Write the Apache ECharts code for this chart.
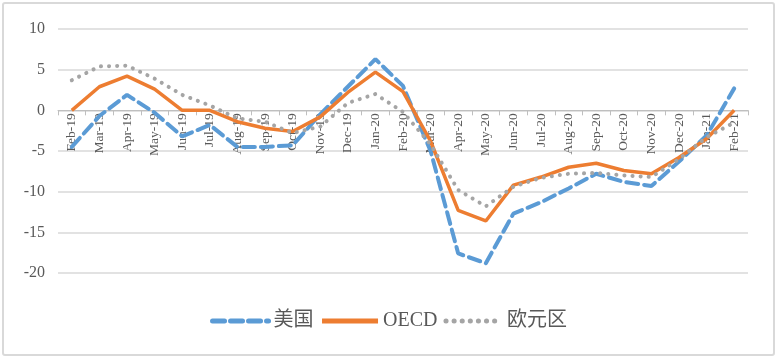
<!DOCTYPE html>
<html>
<head>
<meta charset="utf-8">
<script src="https://cdn.jsdelivr.net/npm/echarts@6/dist/echarts.min.js"></script>
<style>
html,body{margin:0;padding:0;background:#fff;}
#chart{position:absolute;left:0;top:0;width:777px;height:358px;}
#frame{position:absolute;left:2px;top:2px;width:769px;height:350px;border:2px solid #d9d9d9;border-radius:3px;pointer-events:none;}
</style>
</head>
<body>
<div id="chart"></div>
<div id="frame"></div>
<script>
const categories = ['Feb-19','Mar-19','Apr-19','May-19','Jun-19','Jul-19','Aug-19','Sep-19','Oct-19','Nov-19','Dec-19','Jan-20','Feb-20','Mar-20','Apr-20','May-20','Jun-20','Jul-20','Aug-20','Sep-20','Oct-20','Nov-20','Dec-20','Jan-21','Feb-21'];
const usValues = [-4.5,-0.7,1.9,-0.3,-3.2,-1.8,-4.5,-4.5,-4.3,-0.5,2.9,6.3,3.0,-5.0,-17.6,-18.8,-12.7,-11.3,-9.6,-7.8,-8.8,-9.3,-6.3,-3.1,2.7];
const oecdValues = [0,2.9,4.2,2.6,0,0,-1.4,-2.2,-2.6,-0.8,2.2,4.7,2.3,-3.8,-12.3,-13.6,-9.2,-8.2,-7.0,-6.5,-7.4,-7.8,-5.8,-3.5,0];
const euroValues = [3.7,5.4,5.5,3.9,1.9,0.6,-1.0,-1.4,-2.8,-2.0,0.9,2.0,-0.2,-4.2,-9.8,-11.8,-9.4,-8.3,-7.8,-7.7,-8.0,-8.2,-6.0,-3.3,-1.5];
const seriesNames = ['美国','OECD','欧元区'];
const yTicks = {min:-20, max:10, interval:5};

const chart = echarts.init(document.getElementById('chart'), null, {renderer:'canvas'});
const font = '"Liberation Serif","Noto Sans CJK SC",serif';
const gridBottom = 85;
chart.setOption({
  animation:false,
  grid:{left:58, right:29, top:29, bottom:gridBottom},
  legend:{
    bottom:22, left:'center',
    itemWidth:56, itemHeight:14, itemGap:6,
    itemStyle:{opacity:0},
    lineStyle:{width:5},
    textStyle:{fontFamily:font, fontSize:20, color:'#595959'},
    data:seriesNames
  },
  xAxis:{
    type:'category', data:categories, boundaryGap:true, z:0,
    axisLine:{onZero:false, lineStyle:{color:'#bfbfbf', width:1}},
    axisTick:{show:true, alignWithLabel:false, length:5, lineStyle:{color:'#bfbfbf'}},
    axisLabel:{rotate:90, interval:0, margin:3, fontFamily:font, fontSize:13.5, color:'#595959'}
  },
  yAxis:{
    type:'value', min:yTicks.min, max:yTicks.max, interval:yTicks.interval,
    axisLine:{show:false}, axisTick:{show:false},
    axisLabel:{fontFamily:font, fontSize:16, color:'#595959', margin:13},
    splitLine:{lineStyle:{color:'#d9d9d9', width:1.5}}
  },
  series:[
    {name:seriesNames[0], type:'line', data:usValues, symbol:'none', z:2,
      lineStyle:{color:'#5b9bd5', width:4, type:[12,6], cap:'round'}, itemStyle:{color:'#5b9bd5'}},
    {name:seriesNames[1], type:'line', data:oecdValues, symbol:'none', z:3,
      lineStyle:{color:'#ed7d31', width:3.5}, itemStyle:{color:'#ed7d31'}},
    {name:seriesNames[2], type:'line', data:euroValues, symbol:'none', z:4,
      lineStyle:{color:'#a5a5a5', width:4, type:[0.1,8], cap:'round'}, itemStyle:{color:'#a5a5a5'}}
  ]
});
// move the category axis to the zero line of the value axis
const zeroY = chart.convertToPixel({yAxisIndex:0}, 0);
const minY = chart.convertToPixel({yAxisIndex:0}, yTicks.min);
chart.setOption({xAxis:{offset:-(minY - zeroY)}});
</script>
</body>
</html>
